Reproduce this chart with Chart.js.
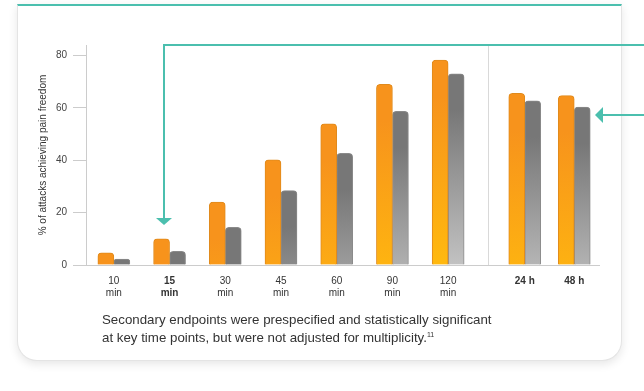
<!DOCTYPE html>
<html>
<head>
<meta charset="utf-8">
<script src="https://cdn.jsdelivr.net/npm/chart.js@4"></script>
<style>
    body {
        margin: 0;
        background: #ffffff;
        font-family: Helvetica, Arial, "Liberation Sans", sans-serif;
    }
    #card {
        position: absolute;
        left: 17px;
        top: 4px;
        width: 605px;
        height: 357px;
        background: #ffffff;
        border: 1px solid #e4e4e4;
        border-top: 2px solid #4bbfae;
        border-radius: 0 0 20px 20px;
        box-shadow: 0 3px 10px rgba(0, 0, 0, 0.10);
        box-sizing: border-box;
    }
    #chart {
        position: absolute;
        left: 0;
        top: 0;
    }
    #note {
        position: absolute;
        left: 102px;
        top: 312px;
        font-size: 13.3px;
        line-height: 15px;
        color: #333333;
        white-space: nowrap;
    }
    #note sup {
        font-size: 7px;
        vertical-align: 5px;
    }
</style>
</head>
<body>
<div id="card"></div>
<canvas id="chart" width="644" height="320"></canvas>
<div id="note">Secondary endpoints were prespecified and statistically significant<br>at key time points, but were not adjusted for multiplicity.<sup>11</sup></div>

<script>
// Categories
const minuteLabels = [['10', 'min'], ['15', 'min'], ['30', 'min'], ['45', 'min'], ['60', 'min'], ['90', 'min'], ['120', 'min']];
const hourLabels = ['24 h', '48 h'];

// % of attacks achieving pain freedom
const drugMinutes = [4.6, 10.0, 24.0, 40.2, 53.9, 69.0, 78.2];
const otherMinutes = [2.3, 5.2, 14.4, 28.4, 42.6, 58.7, 73.0];
const drugHours = [65.5, 64.7];
const otherHours = [62.7, 60.3];

// Y ticks
const yMax = 84;
const yStep = 20;

const teal = '#4bbfae';
const fontFamily = 'Helvetica, Arial, "Liberation Sans", sans-serif';

// Gradient runs from the bar top down over a fixed length, so short bars stay dark
function barGradient(topColor, bottomColor) {
    return ctx => {
        const chart = ctx.chart;
        if (!chart.chartArea || ctx.type !== 'data') {
            return topColor;
        }
        const top = chart.scales.y.getPixelForValue(ctx.raw);
        const g = chart.ctx.createLinearGradient(0, top, 0, top + 200);
        g.addColorStop(0, topColor);
        g.addColorStop(0.18, topColor);
        g.addColorStop(1, bottomColor);
        return g;
    };
}

const orangeFill = barGradient('#f7931c', '#ffb80f');
const grayFill = barGradient('#777777', '#c6c6c6');

// NOTE: chart level indexAxis is 'y' and every set says 'x' itself,
// otherwise v4.5 shifts the bars of each x axis as if they shared one axis
function barSet(data, axis, stack, fill, border) {
    return {
        data,
        indexAxis: 'x',
        xAxisID: axis,
        stack,
        backgroundColor: fill,
        borderColor: border,
        borderWidth: 1,
        borderRadius: 4,
        barThickness: 16
    };
}

// Teal call-out arrows
const arrows = {
    id: 'arrows',
    afterDraw(chart) {
        const { ctx } = chart;
        ctx.save();
        ctx.strokeStyle = teal;
        ctx.fillStyle = teal;
        ctx.lineWidth = 2;

        // from the top right down to the 15 min bars
        ctx.beginPath();
        ctx.moveTo(644, 45);
        ctx.lineTo(164, 45);
        ctx.lineTo(164, 219);
        ctx.stroke();
        ctx.beginPath();
        ctx.moveTo(156, 218);
        ctx.lineTo(172, 218);
        ctx.lineTo(164, 225);
        ctx.closePath();
        ctx.fill();

        // from the right edge to the 48 h bars
        ctx.beginPath();
        ctx.moveTo(644, 115);
        ctx.lineTo(602, 115);
        ctx.stroke();
        ctx.beginPath();
        ctx.moveTo(595, 115);
        ctx.lineTo(603, 107);
        ctx.lineTo(603, 123);
        ctx.closePath();
        ctx.fill();

        ctx.restore();
    }
};

const xCommon = {
    type: 'category',
    position: 'bottom',
    stack: 'x',
    offset: true,
    grid: { display: false, drawTicks: false, offset: true },
    border: { color: '#cccccc' },
    afterFit: scale => { scale.height = 55; }
};

const chart = new Chart(document.getElementById('chart'), {
    type: 'bar',
    data: {
        datasets: [
            barSet(drugMinutes, 'xMin', 'drug', orangeFill, '#e08a1c'),
            barSet(otherMinutes, 'xMin', 'other', grayFill, '#8a8a8a'),
            barSet(drugHours, 'xHour', 'drug', orangeFill, '#e08a1c'),
            barSet(otherHours, 'xHour', 'other', grayFill, '#8a8a8a')
        ]
    },
    options: {
        indexAxis: 'y',
        responsive: false,
        animation: false,
        events: [],
        layout: {
            padding: { left: 0, top: 45, right: 45, bottom: 0 }
        },
        plugins: {
            legend: { display: false },
            tooltip: { enabled: false }
        },
        scales: {
            xMin: {
                ...xCommon,
                labels: minuteLabels,
                stackWeight: 390,
                ticks: {
                    padding: 10,
                    maxRotation: 0,
                    autoSkip: false,
                    color: '#333333',
                    font: ctx => ({
                        family: fontFamily,
                        size: 10,
                        lineHeight: 1.2,
                        weight: ctx.index === 1 ? 'bold' : 'normal'
                    })
                }
            },
            xGap: {
                ...xCommon,
                labels: [''],
                stackWeight: 24,
                grid: {
                    display: true,
                    offset: false,
                    drawTicks: false,
                    color: '#d9d9d9'
                },
                ticks: { display: false }
            },
            xHour: {
                ...xCommon,
                labels: hourLabels,
                stackWeight: 99,
                ticks: {
                    padding: 10,
                    maxRotation: 0,
                    autoSkip: false,
                    color: '#333333',
                    font: { family: fontFamily, size: 10, lineHeight: 1.2, weight: 'bold' }
                }
            },
            y: {
                type: 'linear',
                position: 'left',
                min: 0,
                max: yMax,
                stacked: false,
                offset: false,
                border: { color: '#cccccc' },
                grid: {
                    offset: false,
                    drawOnChartArea: false,
                    tickLength: 13,
                    color: '#cccccc'
                },
                ticks: {
                    stepSize: yStep,
                    includeBounds: false,
                    padding: 6,
                    color: '#444444',
                    font: { family: fontFamily, size: 10 }
                },
                title: {
                    display: true,
                    text: '% of attacks achieving pain freedom',
                    color: '#333333',
                    padding: { top: 37, bottom: 0 },
                    font: { family: fontFamily, size: 10 }
                },
                afterFit: scale => { scale.width = 86; }
            }
        }
    },
    plugins: [arrows]
});
</script>
</body>
</html>
